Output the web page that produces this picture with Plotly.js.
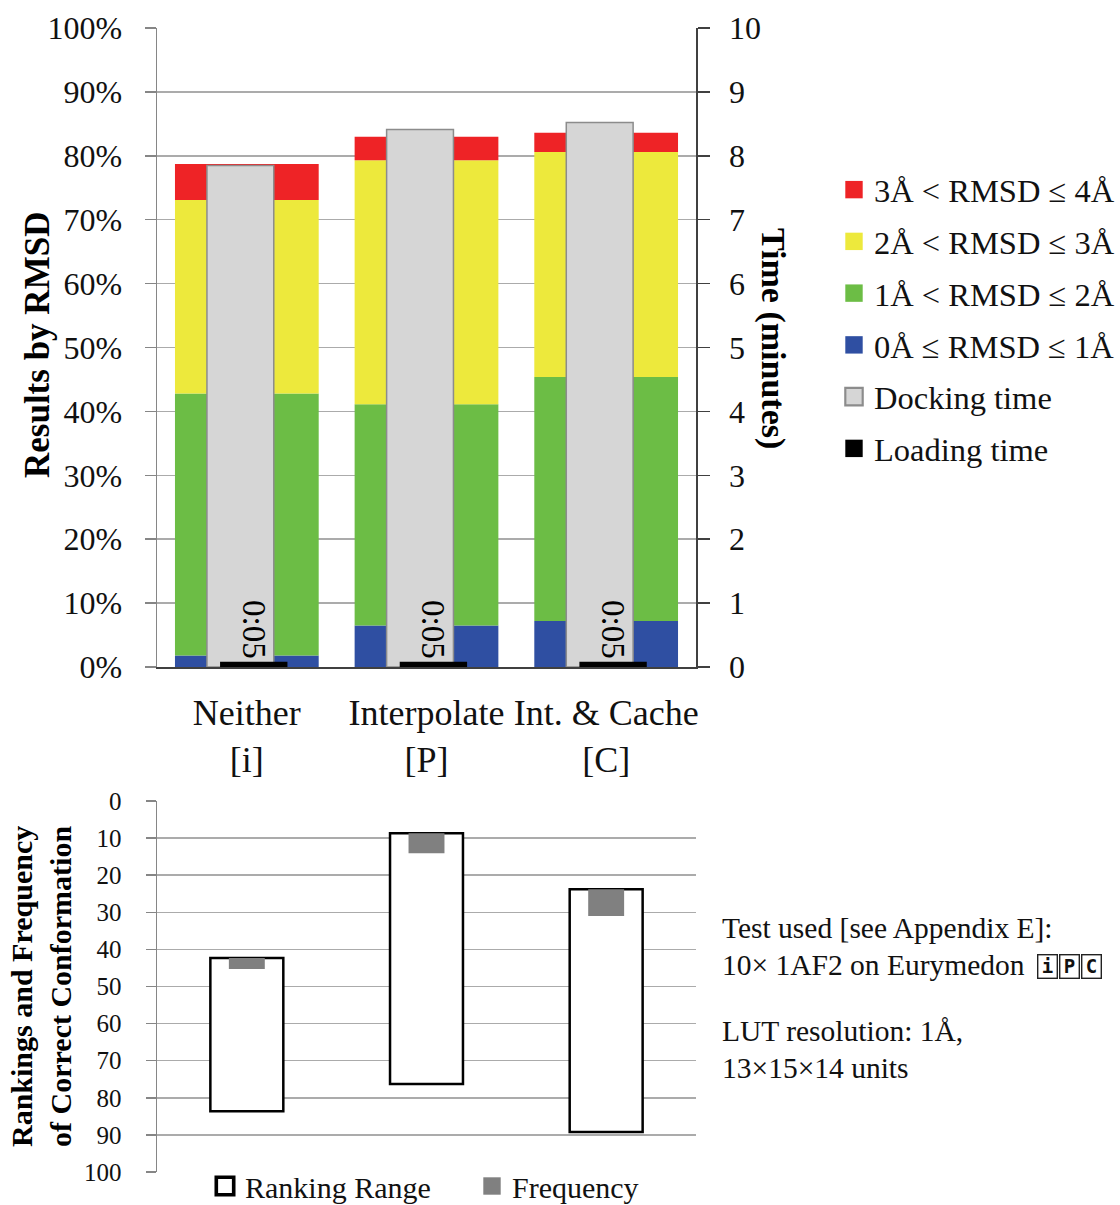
<!DOCTYPE html>
<html><head><meta charset="utf-8">
<script src="https://cdn.plot.ly/plotly-3.0.1.min.js"></script>
<style>html,body{margin:0;padding:0;background:#fff}</style>
</head><body>
<div id="chart" style="width:1120px;height:1205px"></div>
<script>
// ---- data ----
const categories = ["Neither", "Interpolate", "Int. & Cache"];
const codes = ["[i]", "[P]", "[C]"];
const rmsd0to1 = [1.8, 6.5, 7.2];     // % of results, 0Å ≤ RMSD ≤ 1Å
const rmsd1to2 = [41.0, 34.6, 38.2];  // 1Å < RMSD ≤ 2Å
const rmsd2to3 = [30.3, 38.2, 35.2];  // 2Å < RMSD ≤ 3Å
const rmsd3to4 = [5.6, 3.7, 3.0];     // 3Å < RMSD ≤ 4Å
const dockingMin = [7.85, 8.41, 8.52];  // minutes
const loadingMin = [0.083, 0.083, 0.083];
const loadingLabels = ["0:05", "0:05", "0:05"];
const rankMin = [42.3, 8.7, 23.8];
const rankMax = [83.6, 76.3, 89.2];
const frequency = [3.0, 5.4, 7.2];
const seriesNames = ["0Å ≤ RMSD ≤ 1Å", "1Å < RMSD ≤ 2Å", "2Å < RMSD ≤ 3Å", "3Å < RMSD ≤ 4Å"];
const titleLeftTop = "Results by RMSD";
const titleRightTop = "Time (minutes)";
const titleLeftBottom = ["Rankings and Frequency", "of Correct Conformation"];
const infoLines = ["Test used [see Appendix E]:", "10× 1AF2 on Eurymedon", "LUT resolution: 1Å,", "13×15×14 units"];
const testCodes = ["i", "P", "C"];

// ---- helpers (layout geometry) ----
const L = 157, R = 696, T = 28, B = 1172;
const X = p => (p - L) / (R - L);
const Y = p => (B - p) / (B - T);
const FONT = "Liberation Serif";

const xIdx = categories.map((_, i) => i);
const stackSeries = [rmsd0to1, rmsd1to2, rmsd2to3, rmsd3to4];
const stackColors = ["#2F4FA2", "#6CBD45", "#EDE93C", "#EE2326"];
const traces = [];
let base = xIdx.map(() => 0);
stackSeries.forEach((s, k) => {
  traces.push({
    type: "bar", x: xIdx, y: s, base: base.slice(), width: 0.8,
    xaxis: "x", yaxis: "y",
    marker: {color: stackColors[k], line: {width: 0}},
    name: seriesNames[k], legendgroup: "g" + k, legendrank: 4 - k
  });
  base = base.map((b, i) => b + s[i]);
});
traces.push({
  type: "bar", x: xIdx, y: dockingMin, width: 0.372, offset: -0.222,
  xaxis: "x", yaxis: "y2",
  marker: {color: "#D6D6D6", line: {color: "#8C8C8C", width: 1.5}},
  name: "Docking time", legendgroup: "g5", legendrank: 5
});
traces.push({
  type: "bar", x: xIdx, y: loadingMin, width: 0.375, offset: -0.149,
  xaxis: "x", yaxis: "y2",
  marker: {color: "#000000"},
  text: loadingLabels, textposition: "outside", textangle: 90,
  textfont: {family: FONT, size: 33, color: "#000"}, cliponaxis: false,
  name: "Loading time", legendgroup: "g6", legendrank: 6
});
traces.push({
  type: "bar", x: xIdx, y: rankMax.map((m, i) => m - rankMin[i]), base: rankMin,
  width: 0.406, xaxis: "x2", yaxis: "y3",
  marker: {color: "#FFFFFF", line: {color: "#000000", width: 2.5}},
  name: "Ranking Range", legend: "legend2"
});
traces.push({
  type: "bar", x: xIdx, y: frequency, base: rankMin,
  width: 0.2, xaxis: "x2", yaxis: "y3",
  marker: {color: "#808080", line: {width: 0}},
  name: "Frequency", legend: "legend2"
});

const annotations = [];
annotations.push({
  text: "<b>" + titleLeftTop + "</b>", xref: "paper", yref: "paper",
  x: X(37), y: Y(345), xanchor: "center", yanchor: "middle", textangle: -90, showarrow: false,
  font: {family: FONT, size: 35, color: "#000"}
});
annotations.push({
  text: "<b>" + titleRightTop + "</b>", xref: "paper", yref: "paper",
  x: X(773), y: Y(338), xanchor: "center", yanchor: "middle", textangle: 90, showarrow: false,
  font: {family: FONT, size: 34, color: "#000"}
});
annotations.push({
  text: "<b>" + titleLeftBottom.join("<br>") + "</b>", xref: "paper", yref: "paper",
  x: X(41), y: Y(987), xanchor: "center", yanchor: "middle", textangle: -90, showarrow: false,
  font: {family: FONT, size: 30, color: "#000"}
});
const infoY = [928, 965, 1031, 1068];
infoLines.forEach((t, i) => annotations.push({
  text: t, xref: "paper", yref: "paper", x: X(720), y: Y(infoY[i]),
  xanchor: "left", yanchor: "middle", showarrow: false,
  font: {family: FONT, size: 29.5, color: "#111"}
}));
const boxX = [1047, 1069, 1091];
testCodes.forEach((c, i) => annotations.push({
  text: "<b>" + c + "</b>", xref: "paper", yref: "paper", x: X(boxX[i]), y: Y(966),
  xanchor: "center", yanchor: "middle", showarrow: false,
  width: 16, height: 20, borderpad: 1, bordercolor: "#222", borderwidth: 1.4,
  font: {family: "DejaVu Sans Mono", size: 19, color: "#111"}
}));

const gridCol = "#ABABAB", axCol = "#868686";
const layout = {
  width: 1120, height: 1205,
  margin: {l: L, r: 1120 - R, t: T, b: 1205 - B, autoexpand: false},
  paper_bgcolor: "#ffffff", plot_bgcolor: "rgba(0,0,0,0)",
  font: {family: FONT, color: "#000"},
  barmode: "overlay", showlegend: true, hovermode: false,
  xaxis: {
    domain: [0, 1], anchor: "y", range: [-0.5, 2.5],
    tickvals: xIdx, ticktext: categories.map((c, i) => c + "<br>" + codes[i]),
    showline: true, linecolor: "#404040", linewidth: 1.5, ticks: "",
    tickfont: {size: 36, color: "#111"}, ticklabelstandoff: 13,
    showgrid: false, zeroline: false
  },
  yaxis: {
    domain: [Y(667), 1], anchor: "x", range: [0, 100], dtick: 10, ticksuffix: "%",
    showline: true, linecolor: axCol, linewidth: 1.5,
    ticks: "outside", ticklen: 11, tickwidth: 1.5, tickcolor: axCol,
    gridcolor: gridCol, gridwidth: 1.5, zeroline: false,
    tickfont: {size: 32, color: "#111"}, ticklabelstandoff: 16
  },
  yaxis2: {
    overlaying: "y", side: "right", anchor: "x", range: [0, 10], dtick: 1,
    showline: true, linecolor: "#404040", linewidth: 1.5,
    ticks: "outside", ticklen: 12, tickwidth: 1.5, tickcolor: "#404040",
    showgrid: false, zeroline: false,
    tickfont: {size: 32, color: "#111"}, ticklabelstandoff: 13
  },
  xaxis2: {
    domain: [0, 1], anchor: "y3", range: [-0.5, 2.5],
    showticklabels: false, showline: false, showgrid: false, zeroline: false, ticks: ""
  },
  yaxis3: {
    domain: [0, Y(801)], anchor: "x2", range: [100, 0], dtick: 10,
    showline: true, linecolor: axCol, linewidth: 1.5,
    ticks: "outside", ticklen: 10, tickwidth: 1.5, tickcolor: axCol,
    gridcolor: gridCol, gridwidth: 1.5, zeroline: false,
    tickfont: {size: 25, color: "#111"}, ticklabelstandoff: 19
  },
  legend: {
    x: X(834), y: Y(162), xanchor: "left", yanchor: "top",
    traceorder: "grouped", tracegroupgap: 6.5, itemwidth: 30,
    font: {size: 32.5, color: "#111"}, bgcolor: "rgba(0,0,0,0)"
  },
  legend2: {
    orientation: "h", x: X(205), y: Y(1186), xanchor: "left", yanchor: "middle",
    font: {size: 30, color: "#111"}, bgcolor: "rgba(0,0,0,0)",
    entrywidth: 222, entrywidthmode: "pixels", itemwidth: 30
  },
  annotations: annotations
};

Plotly.newPlot("chart", traces, layout, {staticPlot: true, displayModeBar: false}).then(() => {
  // enlarge legend colour swatches (both legends) to match the reference's square markers
  document.querySelectorAll(".legendpoints path").forEach(p => {
    const t = p.getAttribute("transform") || "";
    p.setAttribute("transform", t + " scale(1.45)");
  });
});
</script>
</body></html>
